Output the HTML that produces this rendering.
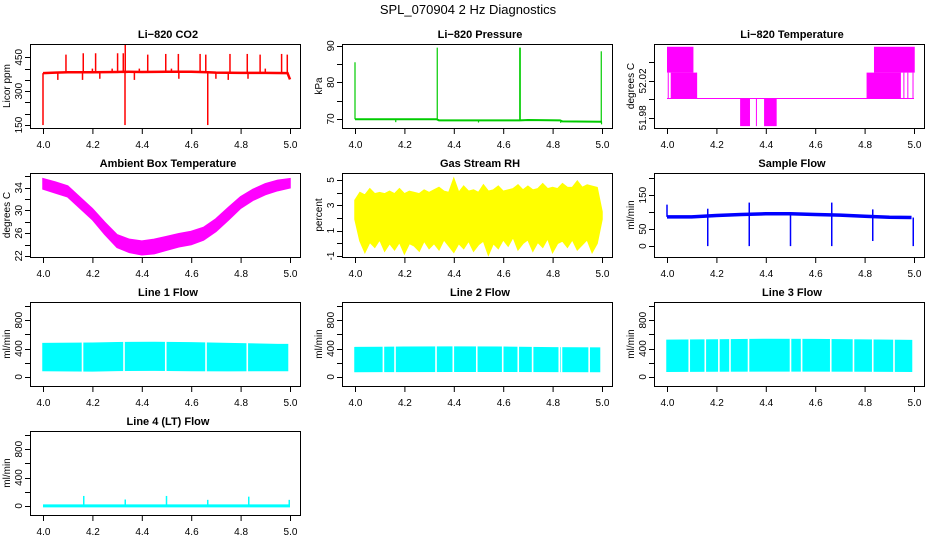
<!DOCTYPE html>
<html><head><meta charset="utf-8"><style>
html,body{margin:0;padding:0;background:#fff;}
svg{display:block;font-family:"Liberation Sans",sans-serif;}
</style></head><body>
<svg id="chart" width="936" height="540" viewBox="0 0 936 540" xmlns="http://www.w3.org/2000/svg">
<rect width="936" height="540" fill="#fff"/>
<text x="468" y="14" text-anchor="middle" font-size="13">SPL_070904  2 Hz Diagnostics</text>
</svg>
<script>
// ---- data ----
const xTicks = [4.0, 4.2, 4.4, 4.6, 4.8, 5.0];
const xTickLabels = ["4.0", "4.2", "4.4", "4.6", "4.8", "5.0"];

// CO2
const co2BaseX = [4.0, 4.05, 4.1, 4.2, 4.3, 4.33, 4.4, 4.5, 4.6, 4.667, 4.7, 4.8, 4.9, 4.99, 5.0];
const co2BaseY = [380, 382, 384, 384, 385, 386, 385, 386, 386, 384, 382, 381, 381, 380, 352];
const co2SpikeX = [4.093, 4.163, 4.213, 4.302, 4.325, 4.333, 4.424, 4.497, 4.548, 4.636, 4.659, 4.757, 4.827, 4.879, 4.966, 4.989, 4.0, 4.332, 4.667, 4.06, 4.16, 4.23, 4.37, 4.55, 4.7, 4.75, 4.83, 4.2, 4.28, 4.52, 4.9, 4.39];
const co2SpikeY = [462, 468, 468, 468, 468, 509, 462, 465, 465, 465, 462, 465, 465, 462, 465, 462, 150, 150, 150, 350, 350, 355, 350, 355, 355, 350, 355, 400, 400, 400, 400, 400];

// Pressure
const presBaseX = [4.0, 4.33, 4.34, 4.667, 4.7, 4.83, 4.84, 5.0];
const presBaseY = [69.9, 69.9, 69.6, 69.6, 69.7, 69.6, 69.3, 69.2];
const presSpikeX = [4.0, 4.333, 4.667, 4.669, 4.997, 4.165, 4.5, 4.833, 4.998];
const presSpikeY = [85.5, 89.5, 89.5, 89.5, 88.5, 69.1, 69.0, 68.9, 68.5];

// Li-820 temperature (quantized levels, blocks)
const tempLevels = [51.971, 52.001, 52.029, 52.057];
const tempBlockX0 = [4.0, 4.015, 4.296, 4.393, 4.808, 4.838, 4.003, 4.118, 4.36, 4.957, 4.973, 4.994];
const tempBlockX1 = [4.107, 4.12, 4.336, 4.444, 4.947, 5.003, 4.006, 4.121, 4.362, 4.959, 4.975, 4.996];
const tempBlockLo = [2, 1, 0, 0, 1, 2, 1, 1, 0, 1, 1, 1];
const tempBlockHi = [3, 2, 1, 1, 2, 3, 2, 2, 1, 2, 2, 2];

// Ambient box temperature
const ambX = [4.0, 4.05, 4.1, 4.15, 4.2, 4.25, 4.3, 4.35, 4.4, 4.45, 4.5, 4.55, 4.6, 4.65, 4.7, 4.75, 4.8, 4.85, 4.9, 4.95, 5.0];
const ambHi = [35.6, 35.0, 34.3, 32.3, 30.3, 27.9, 25.7, 24.9, 24.6, 24.9, 25.4, 25.9, 26.3, 27.0, 28.5, 30.5, 32.4, 33.7, 34.7, 35.3, 35.6];
const ambLo = [33.8, 33.1, 32.4, 30.4, 28.4, 25.8, 23.5, 22.6, 22.2, 22.4, 23.0, 23.6, 24.0, 24.8, 26.3, 28.3, 30.4, 31.8, 32.8, 33.5, 34.0];

// Gas stream RH
const rhX = [4.0, 4.02, 4.04, 4.06, 4.08, 4.1, 4.12, 4.14, 4.16, 4.18, 4.2, 4.22, 4.24, 4.26, 4.28, 4.3, 4.32, 4.34, 4.36, 4.38, 4.4, 4.42, 4.44, 4.46, 4.48, 4.5, 4.52, 4.54, 4.56, 4.58, 4.6, 4.62, 4.64, 4.66, 4.68, 4.7, 4.72, 4.74, 4.76, 4.78, 4.8, 4.82, 4.84, 4.86, 4.88, 4.9, 4.92, 4.94, 4.96, 4.98, 5.0];
const rhHi = [3.4, 4.0, 3.8, 4.3, 3.9, 4.0, 3.9, 4.1, 3.9, 4.3, 3.9, 4.1, 4.0, 3.9, 4.2, 4.0, 4.2, 4.4, 4.1, 4.0, 5.1, 4.0, 4.5, 4.1, 4.2, 4.0, 4.6, 4.1, 4.2, 4.5, 4.1, 4.2, 4.3, 4.6, 4.2, 4.5, 4.2, 4.3, 4.7, 4.3, 4.4, 4.3, 4.7, 4.4, 4.4, 4.9, 4.4, 4.6, 4.5, 4.4, 2.5];
const rhLo = [1.9, 0.2, -0.7, 0.1, -0.3, 0.3, -0.6, 0.0, -0.5, 0.1, -0.8, 0.0, -0.2, -0.6, 0.2, -0.4, 0.0, -0.5, 0.3, -0.2, -0.7, 0.0, -0.4, 0.2, -0.6, -0.1, 0.2, -0.9, 0.0, -0.4, 0.3, -0.2, 0.5, -0.5, 0.0, 0.3, -0.6, 0.1, -0.3, 0.4, -0.7, 0.0, 0.2, -0.3, 0.3, -0.5, -0.1, 0.3, -0.7, 0.0, 1.9];

// Sample flow
const sfBaseX = [4.0, 4.1, 4.2, 4.3, 4.4, 4.5, 4.6, 4.7, 4.8, 4.9, 4.99];
const sfBaseY = [86, 86, 90, 93, 95, 95, 93, 91, 88, 85, 84];
const sfSpikeX = [4.0, 4.165, 4.333, 4.5, 4.667, 4.833, 4.165, 4.333, 4.5, 4.667, 4.833, 4.997];
const sfSpikeY = [122, 110, 128, 100, 128, 108, 0, 0, 0, 0, 15, 0];

// Line flows
const l1X = [4.0, 4.2, 4.3, 4.45, 4.6, 4.75, 4.95, 4.99];
const l1Hi = [470, 475, 482, 485, 480, 470, 455, 455];
const l1Lo = [90, 85, 92, 95, 90, 88, 90, 90];
const l1Gaps = [4.16, 4.328, 4.497, 4.66, 4.827];
const l2X = [4.0, 4.2, 4.4, 4.6, 4.8, 4.99];
const l2Hi = [412, 418, 420, 418, 410, 405];
const l2Lo = [76, 78, 80, 80, 78, 76];
const l2Gaps = [4.115, 4.162, 4.328, 4.398, 4.493, 4.598, 4.661, 4.719, 4.827, 4.836, 4.948];
const l3X = [4.0, 4.2, 4.4, 4.6, 4.8, 4.99];
const l3Hi = [515, 520, 528, 525, 518, 512];
const l3Lo = [80, 82, 85, 85, 82, 80];
const l3Gaps = [4.09, 4.155, 4.21, 4.255, 4.33, 4.5, 4.545, 4.663, 4.755, 4.833, 4.919];
const l4BaseX = [4.0, 5.0];
const l4BaseY = [0, 0];
const l4SpikeX = [4.165, 4.333, 4.5, 4.667, 4.833, 4.997];
const l4SpikeY = [140, 90, 140, 85, 130, 85];

// ---- drawing ----
const NS = "http://www.w3.org/2000/svg";
const svg = document.getElementById("chart");
function mk(tag, attrs, parent) {
  const e = document.createElementNS(NS, tag);
  for (const k in attrs) e.setAttribute(k, attrs[k]);
  (parent || svg).appendChild(e);
  return e;
}
function panel(col, row, name, title, ytitle, ylim, yticks, ylabels) {
  const g = mk("g", {});
  
  
  const L = 30 + 312 * col, R = 300 + 312 * col, T = 44 + 129 * row, B = 128 + 129 * row;
  const sx = v => 43 + 312 * col + (v - 4) * 247;
  const sy = v => B - (v - ylim[0]) / (ylim[1] - ylim[0]) * (B - T);
  const t = mk("text", {x: (L + R) / 2 + 3, y: T - 6, "text-anchor": "middle", "font-size": 11, "font-weight": "bold"}, g);
  t.textContent = title;
  
  
  const yt = mk("text", {transform: `translate(${L - 20},${(T + B) / 2}) rotate(-90)`, "text-anchor": "middle", "font-size": 10}, g);
  yt.textContent = ytitle;
  
  
  const plot = mk("g", {}, g);
  
  
  const ax = mk("g", {stroke: "#000", "stroke-width": 1}, g);
  
  
  mk("rect", {x: L + 0.5, y: T + 0.5, width: R - L, height: B - T, fill: "none"}, ax);
  mk("line", {x1: sx(xTicks[0]), x2: sx(xTicks[xTicks.length - 1]), y1: B + 0.5, y2: B + 0.5}, ax);
  xTicks.forEach((v, i) => {
    mk("line", {x1: sx(v) + 0.5, x2: sx(v) + 0.5, y1: B, y2: B + 6}, ax);
    const lb = mk("text", {x: sx(v) + 0.5, y: B + 20, "text-anchor": "middle", "font-size": 10, stroke: "none"}, g);
    lb.textContent = xTickLabels[i];
    
    
  });
  mk("line", {x1: L + 0.5, x2: L + 0.5, y1: sy(yticks[0]), y2: sy(yticks[yticks.length - 1])}, ax);
  yticks.forEach(v => {
    mk("line", {x1: L - 5, x2: L, y1: Math.round(sy(v)) + 0.5, y2: Math.round(sy(v)) + 0.5}, ax);
  });
  ylabels.forEach(v => {
    const lb = mk("text", {transform: `translate(${L - 8},${sy(v)}) rotate(-90)`, "text-anchor": "middle", "font-size": 10}, g);
    lb.textContent = String(v);
    
    
  });
  return {sx, sy, plot};
}
function polyline(p, xs, ys, color, w, label) {
  const pts = xs.map((x, i) => p.sx(x) + "," + p.sy(ys[i])).join(" ");
  const e = mk("polyline", {points: pts, fill: "none", stroke: color, "stroke-width": w}, p.plot);
  
  
}
function spikes(p, xs, ys, baseX, baseY, color, w, label) {
  xs.forEach((x, i) => {
    let b = baseY[0];
    for (let k = 0; k < baseX.length; k++) if (baseX[k] <= x) b = baseY[k];
    const e = mk("line", {x1: p.sx(x), x2: p.sx(x), y1: p.sy(b), y2: p.sy(ys[i]), stroke: color, "stroke-width": w}, p.plot);
    
    
  });
}
function band(p, xs, hi, lo, color, label) {
  const up = xs.map((x, i) => p.sx(x) + "," + p.sy(hi[i]));
  const dn = xs.map((x, i) => p.sx(x) + "," + p.sy(lo[i])).reverse();
  const e = mk("polygon", {points: up.concat(dn).join(" "), fill: color, stroke: color, "stroke-width": 1.5, "stroke-linejoin": "miter"}, p.plot);
  
  
}
function gaps(p, xs, color, label) {
  xs.forEach(x => {
    const e = mk("line", {x1: p.sx(x), x2: p.sx(x), y1: p.sy(p.yl[1]), y2: p.sy(p.yl[0]), stroke: color, "stroke-width": 1.6}, p.plot);
    
    
  });
}

// CO2
let p = panel(0, 0, "co2", "Li\u2212820 CO2", "Licor ppm", [137, 509], [150, 200, 250, 300, 350, 400, 450], [150, 300, 450]);
polyline(p, co2BaseX, co2BaseY, "#f00", 2.5, "co2-line");
spikes(p, co2SpikeX, co2SpikeY, co2BaseX, co2BaseY, "#f00", 1.5, "co2-spike");

// Pressure
p = panel(1, 0, "pressure", "Li\u2212820 Pressure", "kPa", [67.5, 90.5], [70, 75, 80, 85, 90], [70, 80, 90]);
polyline(p, presBaseX, presBaseY, "#0c0", 2, "pressure-line");
spikes(p, presSpikeX, presSpikeY, presBaseX, presBaseY, "#0c0", 1.2, "pressure-spike");

// Li-820 temperature
p = panel(2, 0, "li820-temp", "Li\u2212820 Temperature", "degrees C", [51.969, 52.060], [51.98, 52.00, 52.02, 52.04], ["51.98", "52.02"]);
polyline(p, [4.0, 5.0], [tempLevels[1], tempLevels[1]], "#f0f", 1, "li820-temp-line");
tempBlockX0.forEach((x0, i) => {
  const x1 = tempBlockX1[i];
  const e = mk("rect", {x: p.sx(x0), y: p.sy(tempLevels[tempBlockHi[i]]), width: Math.max(1, p.sx(x1) - p.sx(x0)), height: p.sy(tempLevels[tempBlockLo[i]]) - p.sy(tempLevels[tempBlockHi[i]]), fill: "#f0f"}, p.plot);
  
  
});

// Ambient
p = panel(0, 1, "ambient-temp", "Ambient Box Temperature", "degrees C", [21.8, 36.6], [22, 24, 26, 28, 30, 32, 34, 36], [22, 26, 30, 34]);
band(p, ambX, ambHi, ambLo, "#f0f", "ambient-temp-band");

// RH
p = panel(1, 1, "gas-rh", "Gas Stream RH", "percent", [-1.08, 5.55], [-1, 0, 1, 2, 3, 4, 5], [-1, 1, 3, 5]);
band(p, rhX, rhHi, rhLo, "#ff0", "gas-rh-band");

// Sample flow
p = panel(2, 1, "sample-flow", "Sample Flow", "ml/min", [-32, 215], [0, 50, 100, 150, 200], [0, 50, 150]);
polyline(p, sfBaseX, sfBaseY, "#00f", 3.5, "sample-flow-line");
spikes(p, sfSpikeX, sfSpikeY, sfBaseX, sfBaseY, "#00f", 1.5, "sample-flow-spike");

// Line flows
const flowTicks = [0, 200, 400, 600, 800, 1000], flowLabels = [0, 400, 800], flowLim = [-129, 1057];
p = panel(0, 2, "line1-flow", "Line 1 Flow", "ml/min", flowLim, flowTicks, flowLabels); p.yl = [l1Lo[0] - 20, 500];
band(p, l1X, l1Hi, l1Lo, "#0ff", "line1-flow-band"); gaps(p, l1Gaps, "#fff", "line1-flow-gap");
p = panel(1, 2, "line2-flow", "Line 2 Flow", "ml/min", flowLim, flowTicks, flowLabels); p.yl = [40, 440];
band(p, l2X, l2Hi, l2Lo, "#0ff", "line2-flow-band"); gaps(p, l2Gaps, "#fff", "line2-flow-gap");
p = panel(2, 2, "line3-flow", "Line 3 Flow", "ml/min", flowLim, flowTicks, flowLabels); p.yl = [40, 540];
band(p, l3X, l3Hi, l3Lo, "#0ff", "line3-flow-band"); gaps(p, l3Gaps, "#fff", "line3-flow-gap");
p = panel(0, 3, "line4-flow", "Line 4 (LT) Flow", "ml/min", flowLim, flowTicks, flowLabels);
polyline(p, l4BaseX, l4BaseY, "#0ff", 3, "line4-flow-line");
spikes(p, l4SpikeX, l4SpikeY, l4BaseX, l4BaseY, "#0ff", 1.5, "line4-flow-spike");
</script>
</body></html>
